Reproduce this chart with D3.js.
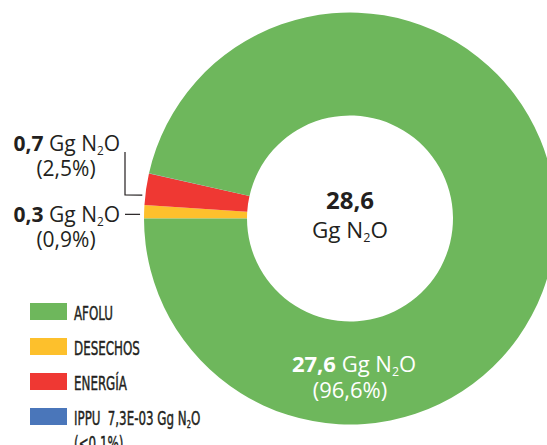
<!DOCTYPE html>
<html>
<head>
<meta charset="utf-8">
<script src="https://cdn.jsdelivr.net/npm/d3@7"></script>
<style>
  html, body { margin: 0; padding: 0; background: #fff; }
  svg { display: block; }
  .lbl { font-family: "Open Sans", "Noto Sans", sans-serif; fill: #231f20; }
  .leg { font-family: "Liberation Sans Narrow", "DejaVu Sans Condensed", sans-serif;
         fill: #231f20; stroke: #231f20; stroke-width: 0.45px; }
</style>
</head>
<body>
<svg id="chart" width="547" height="445"></svg>
<script>
// N2O emissions by sector (Gg)
const categories = ["AFOLU", "DESECHOS", "ENERGÍA", "IPPU"];
const values     = [27.6, 0.3, 0.7, 0.0073];
const valueText  = ["27,6", "0,3", "0,7", "7,3E-03"];
const shareText  = ["96,6%", "0,9%", "2,5%", "<0,1%"];
const colors     = ["#6eb75c", "#fdc02c", "#ef3833", "#4a76ba"];
const totalText  = "28,6";
// ring order, clockwise from nine o'clock
const ringOrder  = [1, 2, 3, 0];

const W = 547, H = 445;
const cx = 350, cy = 218.5, R = 206, r = 103;
const svg = d3.select("#chart");

const rows = ringOrder.map(i => ({ i, name: categories[i], value: values[i] }));
const pie = d3.pie().sort(null).value(d => d.value)
  .startAngle(-Math.PI / 2).endAngle(3 * Math.PI / 2);
const arcs = pie(rows);
const arc = d3.arc().innerRadius(r).outerRadius(R);

const ring = svg.append("g").attr("transform", `translate(${cx},${cy})`);
ring.selectAll("path").data(arcs).join("path")
  .attr("d", arc)
  .attr("fill", d => colors[d.data.i]);

// "Gg N₂O" with a lowered small 2
function unit(t, size) {
  t.append("tspan").text("Gg N");
  t.append("tspan").text("2").attr("font-size", size * 0.56).attr("dy", size * 0.17);
  t.append("tspan").text("O").attr("dy", -size * 0.17);
}

// centre total
svg.append("text").attr("class", "lbl").attr("x", cx).attr("y", 209)
  .attr("text-anchor", "middle").attr("font-size", 24).attr("font-weight", 700)
  .text(totalText);
const ct = svg.append("text").attr("class", "lbl").attr("x", cx).attr("y", 238)
  .attr("text-anchor", "middle").attr("font-size", 22.5);
unit(ct, 22.5);

// point on the ring edge, a fraction of the way through a slice
function edgePoint(idx, frac, pad) {
  const a = arcs.find(d => d.data.i === idx);
  const ang = a.startAngle + (a.endAngle - a.startAngle) * frac;
  return [cx + (R + pad) * Math.sin(ang), cy - (R + pad) * Math.cos(ang)];
}

// ENERGÍA callout
const eEnd = edgePoint(2, 0.3, 3);
svg.append("path")
  .attr("d", d3.line()([[125, 152], [125, 195], eEnd]))
  .attr("fill", "none").attr("stroke", "#231f20").attr("stroke-width", 1.2);
const eT = svg.append("text").attr("class", "lbl").attr("x", 120).attr("y", 151)
  .attr("text-anchor", "end").attr("font-size", 21);
eT.append("tspan").attr("font-weight", 700).text(valueText[2] + " ");
unit(eT, 21);
svg.append("text").attr("class", "lbl").attr("x", 66).attr("y", 176)
  .attr("text-anchor", "middle").attr("font-size", 21).text(`(${shareText[2]})`);

// DESECHOS callout
const dEnd = edgePoint(1, 0.3, 4);
svg.append("path")
  .attr("d", d3.line()([[125, dEnd[1]], dEnd]))
  .attr("fill", "none").attr("stroke", "#231f20").attr("stroke-width", 1.2);
const dT = svg.append("text").attr("class", "lbl").attr("x", 120).attr("y", 222)
  .attr("text-anchor", "end").attr("font-size", 21);
dT.append("tspan").attr("font-weight", 700).text(valueText[1] + " ");
unit(dT, 21);
svg.append("text").attr("class", "lbl").attr("x", 66).attr("y", 247)
  .attr("text-anchor", "middle").attr("font-size", 21).text(`(${shareText[1]})`);

// AFOLU label inside the ring
const aT = svg.append("text").attr("class", "lbl").attr("x", 354).attr("y", 372)
  .attr("text-anchor", "middle").attr("font-size", 22).style("fill", "#fff");
aT.append("tspan").attr("font-weight", 700).text(valueText[0] + " ");
unit(aT, 22);
svg.append("text").attr("class", "lbl").attr("x", 350).attr("y", 398)
  .attr("text-anchor", "middle").attr("font-size", 22).style("fill", "#fff")
  .text(`(${shareText[0]})`);

// legend
const leg = svg.append("g").attr("transform", "translate(30,303)");
const item = leg.selectAll("g").data(categories).join("g")
  .attr("transform", (d, i) => `translate(0,${i * 35})`);
item.append("rect").attr("width", 37).attr("height", 17)
  .attr("fill", (d, i) => colors[i]);
item.each(function (d, i) {
  const g = d3.select(this);
  const t = g.append("text").attr("class", "leg").attr("font-size", 20)
    .attr("transform", "translate(44,16.5) scale(0.66,1)");
  if (d === "IPPU") {
    t.append("tspan").text(d);
    t.append("tspan").attr("dx", 11).text(valueText[i] + " ");
    unit(t, 20);
    g.append("text").attr("class", "leg").attr("font-size", 20)
      .attr("transform", "translate(44,42) scale(0.66,1)")
      .text(`(${shareText[i]})`);
  } else {
    t.text(d);
  }
});
</script>
</body>
</html>
